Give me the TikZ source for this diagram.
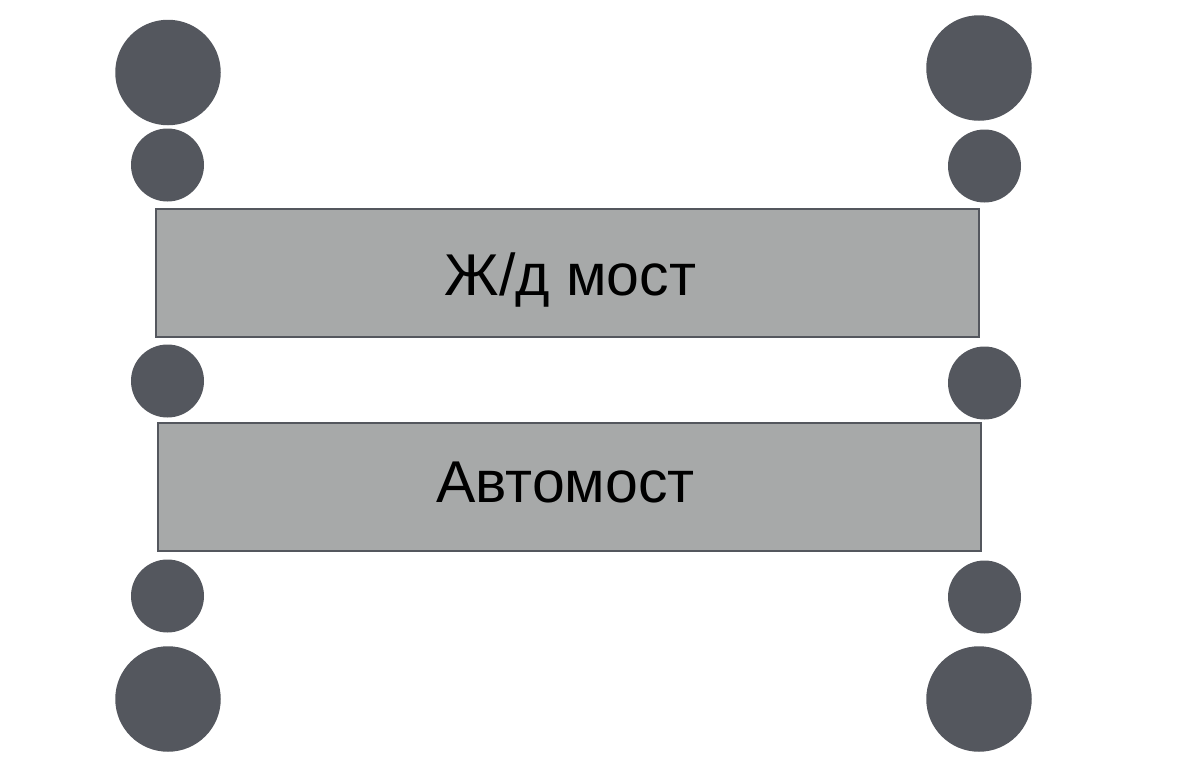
\documentclass[tikz,border=0pt]{standalone}
\usepackage{fontspec}
\setmainfont{Liberation Sans}
\usetikzlibrary{positioning}
\definecolor{pier}{HTML}{54575E}
\definecolor{deck}{HTML}{A7A9A9}

\begin{document}
\begin{tikzpicture}[
  x=1pt,
  y=-1pt,
  font=\fontsize{59}{70}\selectfont,
  pile/.style={circle, fill=pier, inner sep=0pt, minimum size=#1},
  span/.style={draw=pier, fill=deck, line width=2.8pt, inner sep=0pt,
    minimum width=823pt, minimum height=128pt}
]
\useasboundingbox (0,0) rectangle (1200,777);
% piers on both banks
\foreach \n/\x/\y/\d in {
  lt1/168/72.5/105.5, lt2/167.5/165/73, lm/167.5/381/73, lb2/167.5/596/73, lb1/168/699/105.5,
  rt1/979/68/105.5, rt2/984.5/166/73, rm/984.5/383/73, rb2/984.5/597/73, rb1/979/699/105.5
}{
  \node[pile=\d] (\n) at (\x,\y) {};
}
% the two decks
\node[span] (rail) at (567.5,273) {};
\node[anchor=base] (railtxt) at ([xshift=3pt, yshift=-22pt]rail.center) {Ж/д мост};
\node[span] (road) at (569.5,487) {};
\node[anchor=base] (roadtxt) at ([xshift=-4pt, yshift=-15pt]road.center) {Автомост};
\end{tikzpicture}
\end{document}
